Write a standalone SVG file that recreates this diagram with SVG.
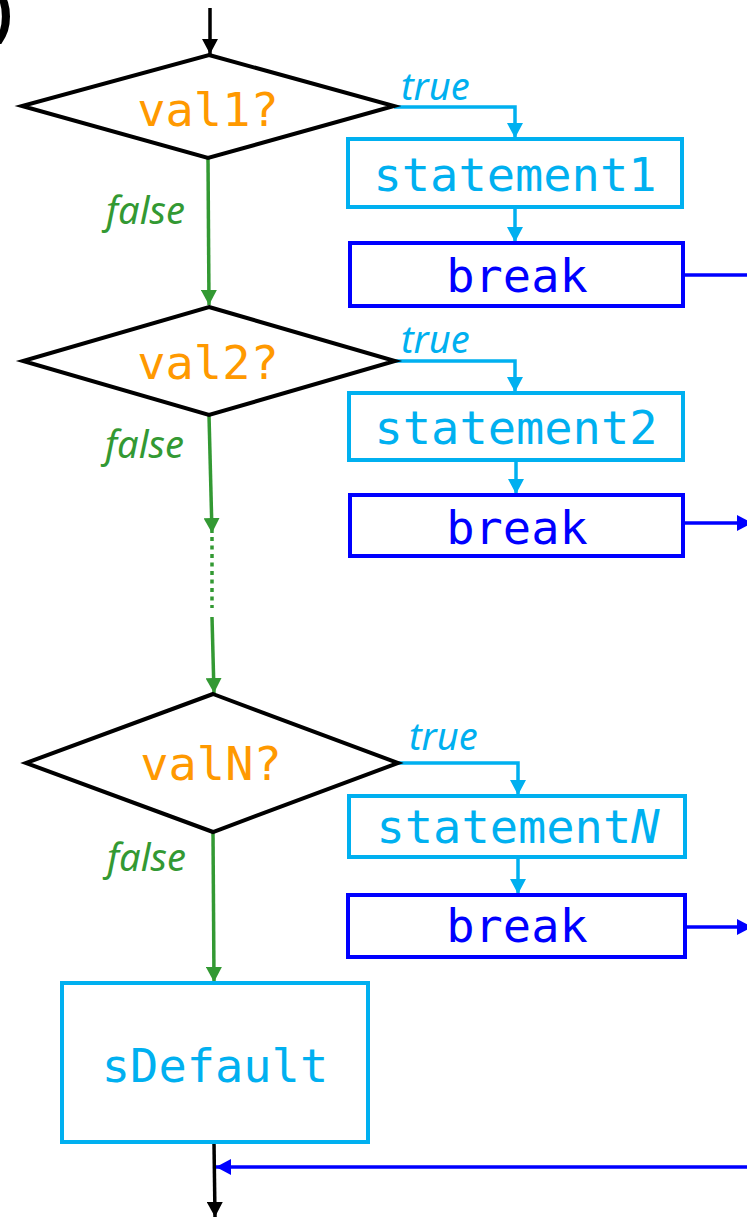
<svg xmlns="http://www.w3.org/2000/svg" width="747" height="1218" viewBox="0 0 747 1218">
  <style>
    .code { font-family: "DejaVu Sans Mono", "Liberation Mono", monospace; font-size: 47px; text-anchor: middle; }
    .lbl { font-family: "Noto Sans", "Liberation Sans", sans-serif; font-style: italic; font-size: 38px; }
    .dia { fill: #fff; stroke: #000; stroke-width: 4; stroke-linejoin: miter; }
    .stmt { fill: #fff; stroke: #00B0F0; stroke-width: 4; }
    .brk { fill: #fff; stroke: #0000FF; stroke-width: 4; }
    .c-black { stroke: #000; stroke-width: 3.5; fill: none; }
    .c-green { stroke: #339933; stroke-width: 3.5; fill: none; }
    .c-cyan { stroke: #00B0F0; stroke-width: 3.5; fill: none; }
    .c-blue { stroke: #0000FF; stroke-width: 3.5; fill: none; }
  </style>
  <defs>
    <marker id="ah-black" markerUnits="userSpaceOnUse" markerWidth="16" markerHeight="16" refX="15" refY="8" orient="auto">
      <path d="M0,0 L15,8 L0,16 Z" fill="#000"/>
    </marker>
    <marker id="ah-green" markerUnits="userSpaceOnUse" markerWidth="16" markerHeight="16" refX="15" refY="8" orient="auto">
      <path d="M0,0 L15,8 L0,16 Z" fill="#339933"/>
    </marker>
    <marker id="ah-cyan" markerUnits="userSpaceOnUse" markerWidth="16" markerHeight="16" refX="15" refY="8" orient="auto">
      <path d="M0,0 L15,8 L0,16 Z" fill="#00B0F0"/>
    </marker>
    <marker id="ah-blue" markerUnits="userSpaceOnUse" markerWidth="16" markerHeight="16" refX="15" refY="8" orient="auto">
      <path d="M0,0 L15,8 L0,16 Z" fill="#0000FF"/>
    </marker>
  </defs>

  <!-- figure tag, partly outside the frame -->
  <text x="-7" y="32" font-family="Liberation Sans, sans-serif" font-weight="bold" font-size="60">)</text>

  <!-- connectors -->
  <g id="connectors">
    <path class="c-black" d="M210,8 L210,54" marker-end="url(#ah-black)"/>

    <path class="c-cyan" d="M394,107 L515,107 L515,138" marker-end="url(#ah-cyan)"/>
    <path class="c-cyan" d="M515,207 L515,242" marker-end="url(#ah-cyan)"/>
    <path class="c-blue" d="M683,275 L747,275"/>

    <path class="c-cyan" d="M395,361 L515,361 L515,392" marker-end="url(#ah-cyan)"/>
    <path class="c-cyan" d="M516,460 L516,494" marker-end="url(#ah-cyan)"/>
    <path class="c-blue" d="M683,523 L752,523" marker-end="url(#ah-blue)"/>

    <path class="c-cyan" d="M398,763 L518,763 L518,795" marker-end="url(#ah-cyan)"/>
    <path class="c-cyan" d="M518,857 L518,894" marker-end="url(#ah-cyan)"/>
    <path class="c-blue" d="M685,927 L752,927" marker-end="url(#ah-blue)"/>

    <path class="c-green" d="M208,158 L209,305" marker-end="url(#ah-green)"/>
    <path class="c-green" d="M209,415 L212,533" marker-end="url(#ah-green)"/>
    <path class="c-green" d="M212,537 L212,608" stroke-width="4" stroke-dasharray="4 4.5"/>
    <path class="c-green" d="M212,617 L214,693" marker-end="url(#ah-green)"/>
    <path class="c-green" d="M213,832 L214,982" marker-end="url(#ah-green)"/>

    <path class="c-black" d="M214,1143 L215,1217" marker-end="url(#ah-black)"/>
    <path class="c-blue" d="M747,1167 L216,1167" marker-end="url(#ah-blue)"/>

    <text class="lbl" x="401" y="100" fill="#00B0F0">true</text>
    <text class="lbl" x="401" y="353" fill="#00B0F0">true</text>
    <text class="lbl" x="409" y="750" fill="#00B0F0">true</text>
    <text class="lbl" x="106" y="224" fill="#339933">false</text>
    <text class="lbl" x="105" y="458" fill="#339933">false</text>
    <text class="lbl" x="107" y="871" fill="#339933">false</text>
  </g>

  <!-- decisions -->
  <g id="val1">
    <polygon class="dia" points="209,55 394,106 208,158 22,106"/>
    <text class="code" x="208" y="126" fill="#FF9900">val1?</text>
  </g>
  <g id="val2">
    <polygon class="dia" points="209,307 395,361 209,415 23,361"/>
    <text class="code" x="208" y="379" fill="#FF9900">val2?</text>
  </g>
  <g id="valN">
    <polygon class="dia" points="213,694 398,763 213,832 26,763"/>
    <text class="code" x="211" y="780" fill="#FF9900">valN?</text>
  </g>

  <!-- case bodies -->
  <g id="statement1">
    <rect class="stmt" x="348" y="139" width="334" height="68"/>
    <text class="code" x="515" y="191" fill="#00B0F0">statement1</text>
  </g>
  <g id="break1">
    <rect class="brk" x="350" y="243" width="333" height="63"/>
    <text class="code" x="517" y="292" fill="#0000FF">break</text>
  </g>
  <g id="statement2">
    <rect class="stmt" x="349" y="393" width="334" height="67"/>
    <text class="code" x="516" y="444" fill="#00B0F0">statement2</text>
  </g>
  <g id="break2">
    <rect class="brk" x="350" y="495" width="333" height="61"/>
    <text class="code" x="517" y="544" fill="#0000FF">break</text>
  </g>
  <g id="statementN">
    <rect class="stmt" x="349" y="796" width="336" height="61"/>
    <text class="code" x="518" y="843" fill="#00B0F0">statement<tspan font-style="italic">N</tspan></text>
  </g>
  <g id="breakN">
    <rect class="brk" x="348" y="895" width="337" height="62"/>
    <text class="code" x="517" y="942" fill="#0000FF">break</text>
  </g>

  <!-- default branch -->
  <g id="sDefault">
    <rect class="stmt" x="62" y="983" width="306" height="159"/>
    <text class="code" x="215" y="1082" fill="#00B0F0">sDefault</text>
  </g>
</svg>
